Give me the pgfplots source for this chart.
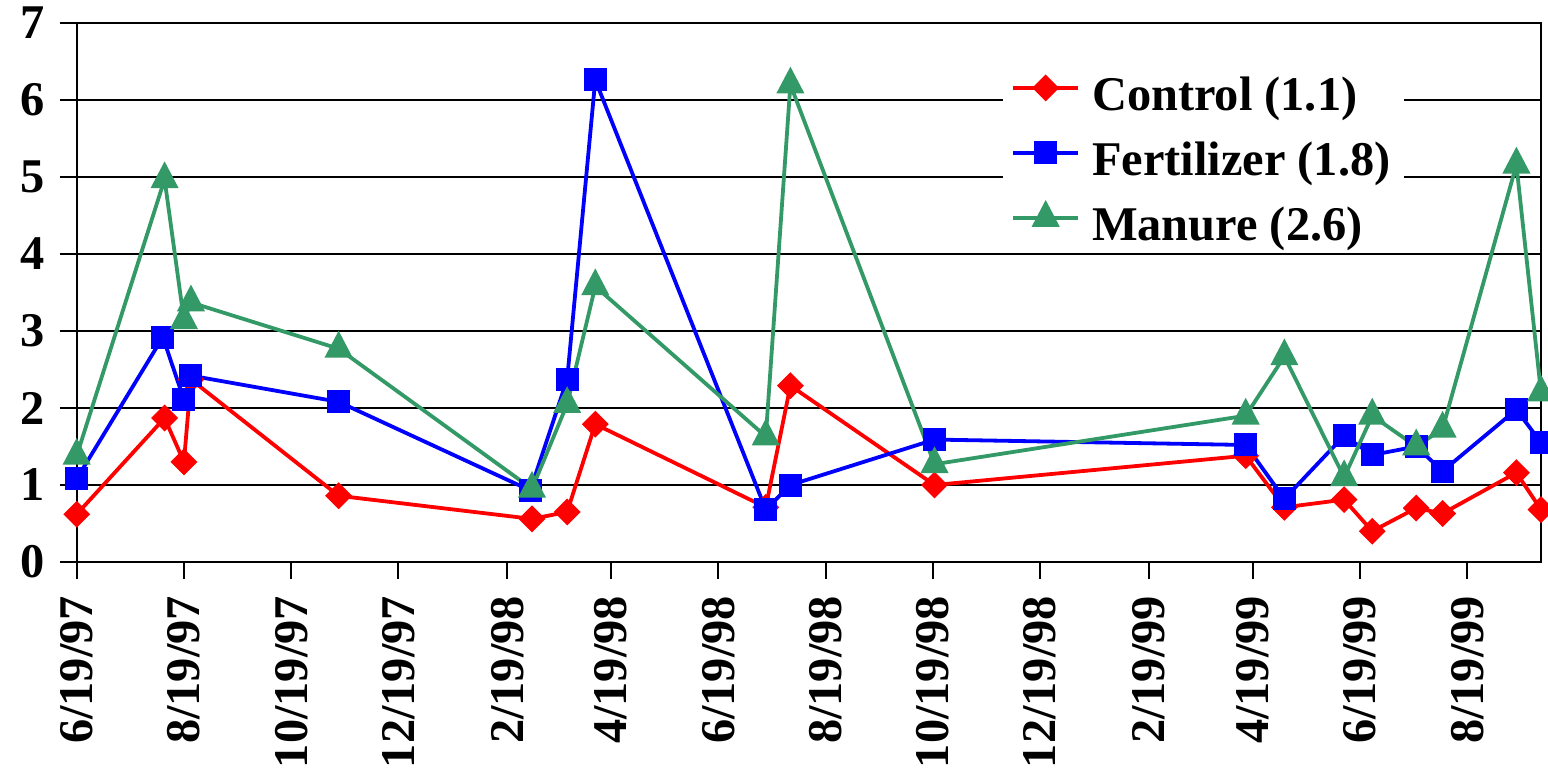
\documentclass[border=0pt]{standalone}
\usepackage{fontspec}
\setmainfont{Liberation Serif}
\usepackage{pgfplots}
\pgfplotsset{compat=1.18}
\definecolor{manure}{RGB}{51,153,102}
\newcommand{\bigbf}{\fontsize{24.2}{28}\selectfont\bfseries}
\begin{document}
\begin{tikzpicture}
\begin{axis}[
  name=ax,
  scale only axis,
  width=732.15pt, height=269.5pt,
  xmin=0, xmax=833, ymin=0, ymax=7,
  axis line style={line width=1pt, black},
  ytick={0,1,2,3,4,5,6,7},
  xtick={0,61,122,183,245,304,365,426,487,548,610,669,730,791},
  xticklabels={6/19/97,8/19/97,10/19/97,12/19/97,2/19/98,4/19/98,6/19/98,8/19/98,10/19/98,12/19/98,2/19/99,4/19/99,6/19/99,8/19/99},
  xtick pos=bottom, ytick pos=left,
  tick align=outside,
  major tick length=8.5pt,
  tick style={line width=1pt, black},
  ymajorgrids,
  grid style={line width=1pt, black},
  ticklabel style={font=\bigbf},
  xticklabel style={rotate=90, anchor=east},
  xticklabel shift=5pt,
  yticklabel shift=4pt,
  /pgf/number format/assume math mode=true,
  clip=false,
  legend image code/.code={\draw[mark repeat=2,mark phase=2,#1] plot coordinates {(0pt,0pt) (16.25pt,0pt) (32.5pt,0pt)};},
  legend style={at={(0.6325,0.9406)}, anchor=north west, draw=none, fill=white,
    font=\bigbf, inner xsep=4pt, inner ysep=0pt, row sep=0pt,
    nodes={inner xsep=3pt, inner ysep=2pt, text height=25.5pt, text depth=3pt},
    /tikz/every odd column/.append style={column sep=3pt}},
  legend cell align=left,
]
\addplot[red, line width=1.9pt, mark=square*, mark size=3.8pt, mark options={rotate=45, solid}] coordinates {
(0,0.62) (50,1.87) (61,1.30) (65,2.37) (149,0.86) (259,0.56) (279,0.65) (295,1.79)
(392,0.71) (406,2.29) (488,1.00) (665,1.38) (687,0.71) (721,0.81) (737,0.40)
(762,0.70) (777,0.63) (819,1.16) (833,0.68)};
\addlegendentry{Control (1.1)}
\addplot[blue, line width=1.9pt, mark=square*, mark size=4.8pt, mark options={solid}] coordinates {
(0,1.08) (49,2.92) (61,2.11) (65,2.42) (149,2.08) (258,0.93) (279,2.37) (295,6.26)
(392,0.68) (406,1.00) (488,1.59) (665,1.52) (687,0.82) (721,1.64) (737,1.39)
(762,1.50) (777,1.18) (819,1.98) (833,1.55)};
\addlegendentry{Fertilizer (1.8)}
\addplot[manure, line width=1.9pt, mark=triangle*, mark size=6.3pt, mark options={solid, yscale=1.1}] coordinates {
(0,1.38) (50,4.97) (61,3.14) (65,3.37) (149,2.77) (259,0.95) (279,2.05) (295,3.58)
(392,1.63) (406,6.20) (488,1.27) (665,1.90) (687,2.67) (721,1.10) (737,1.90)
(762,1.50) (777,1.73) (819,5.16) (833,2.20)};
\addlegendentry{Manure (2.6)}
\end{axis}
\pgfresetboundingbox
\path[use as bounding box] ([xshift=-38.35pt,yshift=-104.5pt]ax.south west) rectangle ([xshift=735.65pt,yshift=281pt]ax.south west);
\end{tikzpicture}
\end{document}
